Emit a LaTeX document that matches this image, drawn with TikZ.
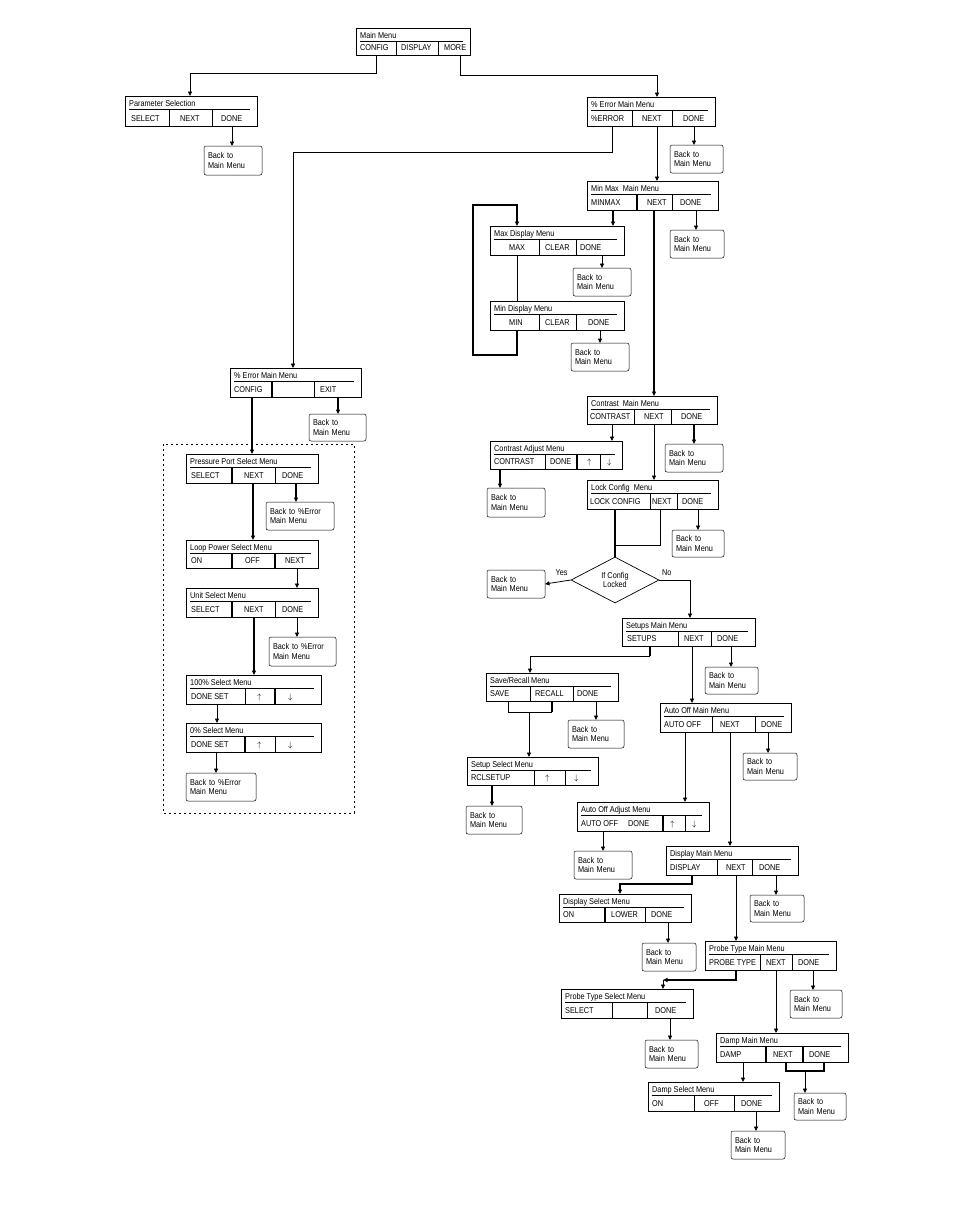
\documentclass[tikz,border=0pt]{standalone}
\usepackage{fontspec}
\setmainfont[FakeStretch=0.86]{Liberation Sans}
\usetikzlibrary{arrows.meta,shapes.geometric}

% menu box: id, x1, y1, x2, y2, title, items (x/label), dividers (x/width)
\newcommand\menu[8]{%
  \node[menubox, minimum width={(#4-#2)*1pt}, minimum height={(#5-#3)*1pt}] (#1) at ({(#2+#4)/2},{(#3+#5)/2}) {};
  \node[txt] (#1-t) at (#2+4,#3+10) {#6};
  \draw (#2+4,#3+13) -- (#4-7,#3+13);
  \foreach \px/\lb in {#7} \node[txt] at (\px,#5-5) {\lb};
  \foreach \px/\lw in {#8} \draw[line width=\lw] (\px,#3+14) -- (\px,#5);
}
% back box: id, x1, y1, x2, y2, text
\newcommand\back[6]{%
  \node[backbox, text width={(#4-#2-8)*1pt}, minimum height={(#5-#3)*1pt}] (#1) at ({(#2+#4)/2},{(#3+#5)/2}) {#6};
}

\begin{document}
\begin{tikzpicture}[x=1pt, y=-1pt, font=\fontsize{8.5}{9.5}\selectfont]
  \tikzset{
    menubox/.style={draw, line width=0.9pt, rectangle, inner sep=0, outer sep=0},
    txt/.style={anchor=base west, inner sep=0},
    backbox/.style={draw, rounded corners=2pt, line width=0.5pt, align=left, inner xsep=4pt, inner ysep=0, outer sep=0},
    conn/.style={-{Triangle[length=4.5pt,width=4pt]}, line width=0.8pt},
    heavy/.style={line width=1.7pt}
  }
  \useasboundingbox (0,0) rectangle (954,1227);

  % top
  \menu{mm}{356}{28}{470}{55}{Main Menu}{360/CONFIG,401/DISPLAY,444/MORE}{396/0.8pt,438/0.8pt}
  \menu{ps}{125}{96}{257}{126}{Parameter Selection}{131/SELECT,180/NEXT,221/DONE}{169/0.8pt,212/0.8pt}
  \back{b1}{204}{146}{262}{175}{Back to\\Main Menu}

  % right column
  \menu{em}{587}{97}{715}{126}{\% Error Main Menu}{591/\%ERROR,642/NEXT,683/DONE}{632/0.8pt,672/0.8pt}
  \back{b2}{670}{145}{723}{173}{Back to\\Main Menu}
  \menu{mx}{587}{181}{718}{210}{Min Max\ \ Main Menu}{591/MINMAX,647/NEXT,680/DONE}{637/1.7pt,672/0.8pt}
  \back{b3}{670}{230}{724}{258}{Back to\\Main Menu}
  \menu{xd}{490}{226}{624}{255}{Max Display Menu}{509/MAX,545/CLEAR,580/DONE}{539/0.8pt,576/0.8pt}
  \back{b4}{573}{268}{631}{296}{Back to\\Main Menu}
  \menu{nd}{490}{301}{624}{330}{Min Display Menu}{509/MIN,545/CLEAR,588/DONE}{539/0.8pt,576/0.8pt}
  \back{b5}{571}{343}{629}{371}{Back to\\Main Menu}
  \menu{cm}{587}{396}{717}{424}{Contrast\ \ Main Menu}{590/CONTRAST,644/NEXT,681/DONE}{634/0.8pt,671/0.8pt}
  \back{b6}{665}{444}{723}{472}{Back to\\Main Menu}
  \menu{ca}{490}{441}{622}{469}{Contrast Adjust Menu}{494/CONTRAST,550/DONE,587/$\uparrow$,607/$\downarrow$}{545/0.8pt,577/1.7pt,600/0.8pt}
  \back{b7}{487}{488}{545}{517}{Back to\\Main Menu}
  \menu{lc}{587}{480}{718}{509}{Lock Config\ \ Menu}{590/LOCK CONFIG,652/NEXT,682/DONE}{650/0.8pt,677/0.8pt}
  \back{b8}{672}{530}{724}{557}{Back to\\Main Menu}
  \node[draw, diamond, line width=0.7pt, minimum width=88pt, minimum height=46pt, inner sep=0, align=center] (dc) at (615,580) {If Config\\Locked};
  \back{b9}{487}{570}{545}{598}{Back to\\Main Menu}
  \menu{su}{622}{618}{755}{646}{Setups Main Menu}{627/SETUPS,684/NEXT,717/DONE}{678/0.8pt,711/0.8pt}
  \back{b10}{705}{667}{758}{694}{Back to\\Main Menu}
  \menu{sr}{486}{673}{618}{701}{Save/Recall Menu}{490/SAVE,535/RECALL,577/DONE}{530/0.8pt,573/0.8pt}
  \back{b11}{568}{720}{624}{748}{Back to\\Main Menu}
  \menu{ss}{467}{757}{598}{785}{Setup Select Menu}{471/RCLSETUP,545/$\uparrow$,574/$\downarrow$}{534/0.8pt,565/0.8pt}
  \back{b12}{466}{806}{522}{834}{Back to\\Main Menu}
  \menu{ao}{660}{703}{791}{732}{Auto Off Main Menu}{664/AUTO OFF,720/NEXT,761/DONE}{712/0.8pt,755/0.8pt}
  \back{b13}{743}{753}{797}{780}{Back to\\Main Menu}
  \menu{aa}{577}{802}{709}{831}{Auto Off Adjust Menu}{581/AUTO OFF,628/DONE,670/$\uparrow$,692/$\downarrow$}{663/1.7pt,685/0.8pt}
  \back{b14}{574}{851}{632}{879}{Back to\\Main Menu}
  \menu{dm}{666}{846}{798}{875}{Display Main Menu}{670/DISPLAY,726/NEXT,759/DONE}{717/0.8pt,752/0.8pt}
  \back{b15}{750}{895}{804}{922}{Back to\\Main Menu}
  \menu{ds}{559}{894}{691}{922}{Display Select Menu}{563/ON/OFF,611/LOWER,651/DONE}{605/1.7pt,645/0.8pt}
  \back{b16}{642}{943}{696}{971}{Back to\\Main Menu}
  \menu{pm}{705}{941}{836}{970}{Probe Type Main Menu}{709/PROBE TYPE,766/NEXT,798/DONE}{760/0.8pt,792/0.8pt}
  \back{b17}{790}{990}{842}{1018}{Back to\\Main Menu}
  \menu{pt}{561}{989}{693}{1018}{Probe Type Select Menu}{565/SELECT,655/DONE}{612/0.8pt,647/0.8pt}
  \back{b18}{645}{1040}{698}{1068}{Back to\\Main Menu}
  \menu{dp}{716}{1033}{848}{1062}{Damp Main Menu}{720/DAMP,773/NEXT,809/DONE}{766/1.7pt,803/1.7pt}
  \back{b19}{794}{1093}{846}{1120}{Back to\\Main Menu}
  \menu{dq}{648}{1082}{779}{1111}{Damp Select Menu}{652/ON,704/OFF,741/DONE}{694/0.8pt,734/0.8pt}
  \back{b20}{731}{1131}{785}{1159}{Back to\\Main Menu}

  % left column
  \menu{el}{230}{368}{361}{397}{\% Error Main Menu}{234/CONFIG,320/EXIT}{272/1.7pt,314/0.8pt}
  \back{b21}{309}{414}{366}{441}{Back to\\Main Menu}
  \draw[dash pattern=on 2pt off 3pt, line width=0.7pt] (163,444) rectangle (354,813);
  \menu{pp}{186}{454}{318}{483}{Pressure Port Select Menu}{191/SELECT,244/NEXT,282/DONE}{232/1.7pt,275/0.8pt}
  \back{b22}{266}{502}{334}{530}{Back to \%Error\\Main Menu}
  \menu{lp}{186}{540}{318}{568}{Loop Power Select Menu}{191/ON,245/OFF,285/NEXT}{232/1.7pt,275/1.7pt}
  \menu{us}{186}{588}{318}{617}{Unit Select Menu}{191/SELECT,244/NEXT,282/DONE}{232/1.7pt,275/0.8pt}
  \back{b23}{269}{637}{336}{666}{Back to \%Error\\Main Menu}
  \menu{hs}{186}{675}{321}{704}{100\% Select Menu}{191/DONE SET,257/$\uparrow$,288/$\downarrow$}{245/0.8pt,275/1.7pt}
  \menu{zs}{186}{723}{321}{752}{0\% Select Menu}{191/DONE SET,257/$\uparrow$,288/$\downarrow$}{245/1.7pt,275/0.8pt}
  \back{b24}{186}{773}{256}{801}{Back to \%Error\\Main Menu}

  % connectors
  \draw[conn] (376,0 |- mm.south) |- (190,73) -- (190,0 |- ps.north);
  \draw[conn] (460,0 |- mm.south) |- (657,75) -- (657,0 |- em.north);
  \draw[conn] (232,0 |- ps.south) -- (232,0 |- b1.north);
  \draw[conn] (612,0 |- em.south) |- (293,152) -- (293,0 |- el.north);
  \draw[conn] (657,0 |- em.south) -- (657,0 |- mx.north);
  \draw[conn] (694,0 |- em.south) -- (694,0 |- b2.north);
  \draw[conn] (696,0 |- mx.south) -- (696,0 |- b3.north);
  \draw[conn, heavy] (613,0 |- mx.south) -- (613,0 |- xd.north);
  \draw[conn, heavy] (654,0 |- mx.south) -- (654,0 |- cm.north);
  \draw (517,0 |- xd.south) -- (517,0 |- nd.north);
  \draw[conn] (602,0 |- xd.south) -- (602,0 |- b4.north);
  \draw[conn] (600,0 |- nd.south) -- (600,0 |- b5.north);
  \draw[conn, heavy] (517,0 |- nd.south) |- (473,355) |- (517,205) -- (517,0 |- xd.north);
  \draw[conn] (612,0 |- cm.south) -- (612,0 |- ca.north);
  \draw[conn] (654,0 |- cm.south) -- (654,0 |- lc.north);
  \draw[conn, heavy] (694,0 |- cm.south) -- (694,0 |- b6.north);
  \draw[conn, heavy] (500,0 |- ca.south) -- (500,0 |- b7.north);
  \draw[conn] (698,0 |- lc.south) -- (698,0 |- b8.north);
  \draw[heavy] (615,0 |- lc.south) -- (dc.north);
  \draw (660,0 |- lc.south) |- (615,545);
  \draw[conn] (dc.west) -- (b9.east) node[pos=0.35, above=2pt] {Yes};
  \draw[conn] (dc.east) -| (690,0 |- su.north) node[pos=0.12, above=1pt] {No};
  \draw[heavy] (650,0 |- su.south) -- (650,656);
  \draw[conn] (650,656) -| (530,0 |- sr.north);
  \draw[conn] (692,0 |- su.south) -- (692,0 |- ao.north);
  \draw[conn] (731,0 |- su.south) -- (731,0 |- b10.north);
  \draw (508,0 |- sr.south) |- (552,712);
  \draw[heavy] (552,712) -- (552,0 |- sr.south);
  \draw[conn] (529,712) -- (529,0 |- ss.north);
  \draw[conn] (596,0 |- sr.south) -- (596,0 |- b11.north);
  \draw[conn, heavy] (492,0 |- ss.south) -- (492,0 |- b12.north);
  \draw[conn] (685,0 |- ao.south) -- (685,0 |- aa.north);
  \draw[conn] (730,0 |- ao.south) -- (730,0 |- dm.north);
  \draw[conn] (768,0 |- ao.south) -- (768,0 |- b13.north);
  \draw[conn] (603,0 |- aa.south) -- (603,0 |- b14.north);
  \draw[conn, heavy] (692,0 |- dm.south) |- (620,884) -- (620,0 |- ds.north);
  \draw[conn] (736,0 |- dm.south) -- (736,0 |- pm.north);
  \draw[conn] (776,0 |- dm.south) -- (776,0 |- b15.north);
  \draw[conn] (668,0 |- ds.south) -- (668,0 |- b16.north);
  \draw[conn, heavy] (736,0 |- pm.south) |- (663,980);
  \draw[conn] (663,980) -- (663,0 |- pt.north);
  \draw[conn] (776,0 |- pm.south) -- (776,0 |- dp.north);
  \draw[conn] (813,0 |- pm.south) -- (813,0 |- b17.north);
  \draw[conn] (670,0 |- pt.south) -- (670,0 |- b18.north);
  \draw[conn] (743,0 |- dp.south) -- (743,0 |- dq.north);
  \draw[heavy] (786,0 |- dp.south) |- (824,1071) -- (824,0 |- dp.south);
  \draw[conn] (805,1071) -- (805,0 |- b19.north);
  \draw[conn] (756,0 |- dq.south) -- (756,0 |- b20.north);
  \draw[conn, heavy] (338,0 |- el.south) -- (338,0 |- b21.north);
  \draw[conn, heavy] (252,0 |- el.south) -- (252,0 |- pp.north);
  \draw[conn, heavy] (296,0 |- pp.south) -- (296,0 |- b22.north);
  \draw[conn, heavy] (253,0 |- pp.south) -- (253,0 |- lp.north);
  \draw[conn] (297,0 |- lp.south) -- (297,0 |- us.north);
  \draw[conn] (297,0 |- us.south) -- (297,0 |- b23.north);
  \draw[conn, heavy] (254,0 |- us.south) -- (254,0 |- hs.north);
  \draw[conn] (217,0 |- hs.south) -- (217,0 |- zs.north);
  \draw[conn] (216,0 |- zs.south) -- (216,0 |- b24.north);
\end{tikzpicture}
\end{document}
